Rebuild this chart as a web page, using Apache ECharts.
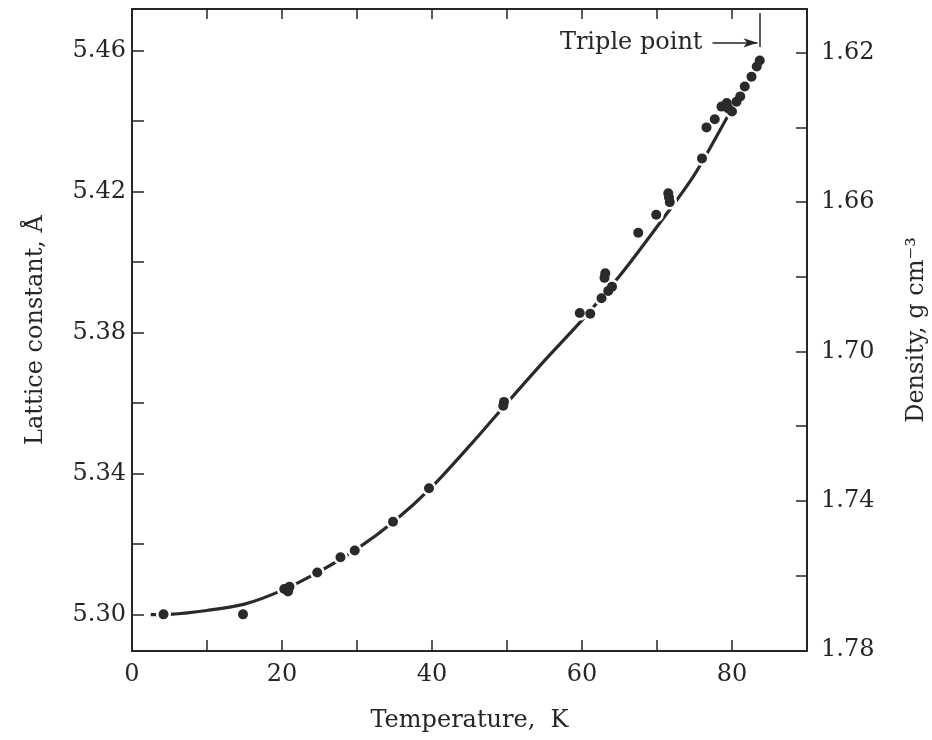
<!DOCTYPE html>
<html>
<head>
<meta charset="utf-8">
<script src="https://cdn.jsdelivr.net/npm/echarts@6/dist/echarts.min.js"></script>
<style>
html,body{margin:0;padding:0;background:#ffffff;}
#chart{width:932px;height:740px;}
</style>
</head>
<body>
<div id="chart"></div>
<script>
// ---- data ----
const curveT = [2.5, 5, 10, 15, 20, 25, 30, 35, 40, 45, 50, 55, 60, 65, 70, 75, 80, 83.7];
const curveA = [5.2999, 5.3000, 5.3011, 5.3029, 5.3068, 5.3122, 5.3186, 5.3265, 5.3362, 5.3478, 5.3600, 5.3720, 5.3835, 5.3960, 5.4100, 5.4248, 5.4435, 5.4568];

const pointsT = [4.2, 14.8, 20.3, 20.8, 21.0, 24.7, 27.8, 29.7, 34.8, 39.6, 49.5, 49.6,
  59.7, 61.1, 62.6, 63.5, 64.0, 63.0, 63.1, 67.5, 69.9, 71.5, 71.6, 71.7,
  76.0, 76.6, 77.7, 78.6, 79.3, 79.5, 80.0, 80.6, 81.1, 81.7, 82.6, 83.3, 83.7];
const pointsA = [5.3000, 5.3000, 5.3072, 5.3065, 5.3078, 5.3119, 5.3162, 5.3181, 5.3263, 5.3358, 5.3592, 5.3603,
  5.3855, 5.3853, 5.3897, 5.3918, 5.3930, 5.3955, 5.3968, 5.4083, 5.4134, 5.4195, 5.4183, 5.4170,
  5.4294, 5.4382, 5.4405, 5.4441, 5.4451, 5.4436, 5.4427, 5.4455, 5.4470, 5.4498, 5.4526, 5.4555, 5.4572];

const xTicks = [0, 10, 20, 30, 40, 50, 60, 70, 80, 90];
const xLabels = [0, 20, 40, 60, 80];
const latticeTicks = [5.30, 5.32, 5.34, 5.36, 5.38, 5.40, 5.42, 5.44, 5.46];
const latticeLabels = [5.30, 5.34, 5.38, 5.42, 5.46];
const densityTicks = [1.62, 1.64, 1.66, 1.68, 1.70, 1.72, 1.74, 1.76, 1.78];
const densityLabels = [1.62, 1.66, 1.70, 1.74, 1.78];

const xRange = [0, 90];
const latticeRange = [5.2896, 5.4718];
const densityRange = [1.6083, 1.7802];

const triplePointT = 83.7;
const tripleLineA = [5.4707, 5.4610];
const arrowT = [77.4, 83.4];
const arrowA = 5.4622;

// ---- chart ----
const ink = '#262626';
const serif = 'DejaVu Serif';
const chart = echarts.init(document.getElementById('chart'), null, {renderer: 'canvas'});

const curve = curveT.map((t, i) => [t, curveA[i]]);
const pts = pointsT.map((t, i) => [t, pointsA[i]]);

const axisLine = {show: true, onZero: false, lineStyle: {color: ink, width: 2}};

chart.setOption({
  backgroundColor: '#ffffff',
  animation: false,
  grid: {left: 132, right: 125, top: 9, bottom: 89, containLabel: false, outerBoundsMode: 'none'},
  xAxis: [
    {
      type: 'value', position: 'bottom', min: xRange[0], max: xRange[1], interval: 10,
      axisLine: axisLine,
      axisTick: {show: true, inside: true, length: 11, customValues: xTicks, lineStyle: {color: ink, width: 1.5}},
      axisLabel: {
        show: true, margin: 12, color: ink, fontFamily: serif, fontSize: 24,
        customValues: xLabels, formatter: v => String(v)
      },
      splitLine: {show: false},
      name: 'Temperature,  K', nameLocation: 'middle', nameGap: 58,
      nameTextStyle: {color: ink, fontFamily: serif, fontSize: 24}
    },
    {
      type: 'value', position: 'top', min: xRange[0], max: xRange[1], interval: 10,
      axisLine: axisLine,
      axisTick: {show: true, inside: true, length: 10, customValues: xTicks, lineStyle: {color: ink, width: 1.5}},
      axisLabel: {show: false}, splitLine: {show: false}
    }
  ],
  yAxis: [
    {
      type: 'value', position: 'left', min: latticeRange[0], max: latticeRange[1],
      axisLine: axisLine,
      axisTick: {show: true, inside: true, length: 12, customValues: latticeTicks, lineStyle: {color: ink, width: 1.5}},
      axisLabel: {
        show: true, margin: 6, color: ink, fontFamily: serif, fontSize: 24,
        customValues: latticeLabels, formatter: v => v.toFixed(2)
      },
      splitLine: {show: false},
      name: 'Lattice constant, Å', nameLocation: 'middle', nameGap: 84,
      nameTextStyle: {color: ink, fontFamily: serif, fontSize: 24}
    },
    {
      type: 'value', position: 'right', inverse: true, min: densityRange[0], max: densityRange[1],
      axisLine: axisLine,
      axisTick: {show: true, inside: true, length: 11, customValues: densityTicks, lineStyle: {color: ink, width: 1.5}},
      axisLabel: {
        show: true, margin: 14, color: ink, fontFamily: serif, fontSize: 24,
        customValues: densityLabels, formatter: v => v.toFixed(2)
      },
      splitLine: {show: false},
      name: 'Density, g cm⁻³', nameLocation: 'middle', nameGap: 98,
      nameTextStyle: {color: ink, fontFamily: serif, fontSize: 24}
    }
  ],
  series: [
    {
      type: 'line', xAxisIndex: 0, yAxisIndex: 0, data: curve,
      smooth: 0.3, showSymbol: false, symbol: 'none',
      lineStyle: {color: '#2a2a2a', width: 3.2}, z: 2, silent: true,
      markLine: {
        silent: true, symbol: ['none', 'none'], animation: false,
        lineStyle: {color: ink, width: 1.5, type: 'solid'},
        label: {show: false},
        data: [
          [{coord: [triplePointT, tripleLineA[0]]}, {coord: [triplePointT, tripleLineA[1]]}],
          [{coord: [arrowT[0], arrowA], symbol: 'none',
            label: {show: true, position: 'start', formatter: 'Triple point', distance: 10,
                    color: ink, fontFamily: serif, fontSize: 24}},
           {coord: [arrowT[1], arrowA], symbol: 'arrow', symbolSize: [7, 14]}]
        ]
      }
    },
    {
      type: 'scatter', xAxisIndex: 0, yAxisIndex: 0, data: pts,
      symbol: 'circle', symbolSize: 15, itemStyle: {color: '#ffffff', opacity: 1}, z: 3, silent: true
    },
    {
      type: 'scatter', xAxisIndex: 0, yAxisIndex: 0, data: pts,
      symbol: 'circle', symbolSize: 10, itemStyle: {color: '#2a2a2a', opacity: 1}, z: 4, silent: true
    }
  ]
});
</script>
</body>
</html>
